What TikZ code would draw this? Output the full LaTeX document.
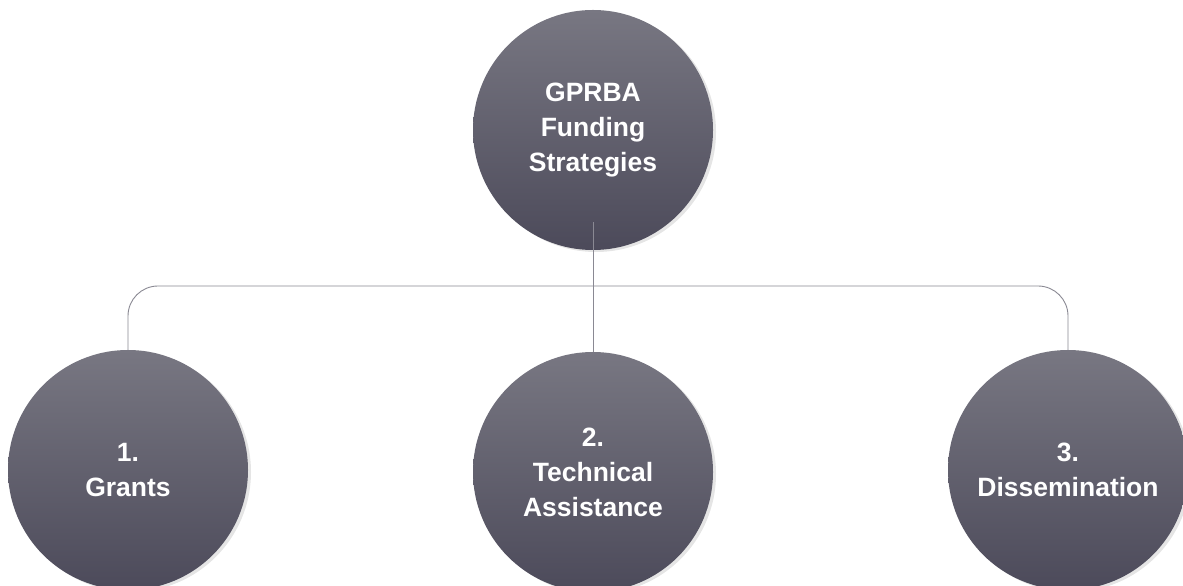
\documentclass[tikz,border=0pt]{standalone}
\usepackage{fontspec}
\setmainfont{Liberation Sans}
\usepackage{tikz}
\usetikzlibrary{positioning,calc,shadows}

\definecolor{discTop}{RGB}{120,119,130}
\definecolor{discBottom}{RGB}{76,74,90}
\definecolor{linkGray}{RGB}{138,137,147}

\begin{document}
\begin{tikzpicture}[
  x=1pt, y=1pt,
  disc/.style={circle, minimum size=240pt, inner sep=0pt, align=center,
    top color=discTop, bottom color=discBottom, text=white,
    font=\fontsize{26.5}{35}\selectfont\bfseries,
    drop shadow={shadow xshift=3pt, shadow yshift=-2pt,
      fill=black, opacity=0.10}},
  link/.style={draw=linkGray, line width=0.9pt}
]
\useasboundingbox[fill=white] (0,0) rectangle (1183,586);

\node[disc] (goal) at (593,456) {GPRBA\\Funding\\Strategies};

\node[disc] (grants) at (128,116) {1.\\Grants};
\node[disc] (assist) at (593,114) {2.\\Technical\\Assistance};
\node[disc] (dissem) at (1068,116) {3.\\Dissemination};

\coordinate (bus) at (593,300);

% tree connectors
\draw[link] ($(goal.south)+(0,28)$) -- (assist.north);
\draw[link, rounded corners=30pt] (grants.north) |- (bus) -| (dissem.north);
\end{tikzpicture}
\end{document}
